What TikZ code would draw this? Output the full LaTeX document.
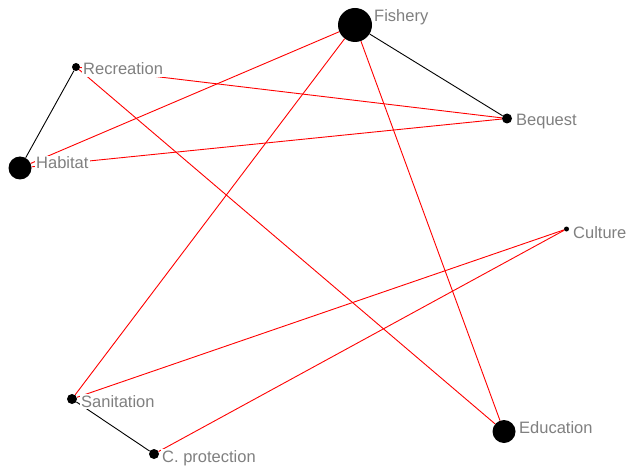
\documentclass[tikz,border=0pt]{standalone}
\usepackage{fontspec}
\setmainfont{Liberation Sans}
\begin{document}
\begin{tikzpicture}[x=1pt,y=-1pt,
  dot/.style={circle,fill=black,inner sep=0pt,minimum size=#1},
  lbl/.style={anchor=base west,fill=white,inner sep=1.5pt,text=black!50,font=\fontsize{16.5}{18}\selectfont},
  blk/.style={draw=black,line width=0.9pt},
  rd/.style={draw=red,line width=0.9pt}]
\useasboundingbox (0,0) rectangle (628,470);
% node circles
\node[dot=34pt] (fi) at (355,25) {};
\node[dot=8pt] (re) at (76,67) {};
\node[dot=10pt] (be) at (507,118.5) {};
\node[dot=23pt] (ha) at (20,168) {};
\node[dot=5pt] (cu) at (566.5,229) {};
\node[dot=10pt] (sa) at (72,399) {};
\node[dot=10pt] (cp) at (154,454) {};
\node[dot=23pt] (ed) at (504,431.5) {};
% connectors
\draw[blk] (fi) -- (be);
\draw[blk] (re) -- (ha);
\draw[blk] (sa) -- (cp);
\draw[rd] (fi) -- (ha);
\draw[rd] (fi) -- (sa);
\draw[rd] (fi) -- (ed);
\draw[rd] (re) -- (be);
\draw[rd] (re) -- (ed);
\draw[rd] (ha) -- (be);
\draw[rd] (cu) -- (sa);
\draw[rd] (cu) -- (cp);
% labels
\node[lbl] (lfi) at (372.5,22) {Fishery};
\node[lbl] (lre) at (81.5,75) {Recreation};
\node[lbl] (lbe) at (514.5,126) {Bequest};
\node[lbl] (lha) at (34.5,169) {Habitat};
\node[lbl] (lcu) at (571.5,238) {Culture};
\node[lbl] (lsa) at (79.5,407) {Sanitation};
\node[lbl] (lcp) at (160.5,462) {C. protection};
\node[lbl] (led) at (517.5,433) {Education};
\end{tikzpicture}
\end{document}
